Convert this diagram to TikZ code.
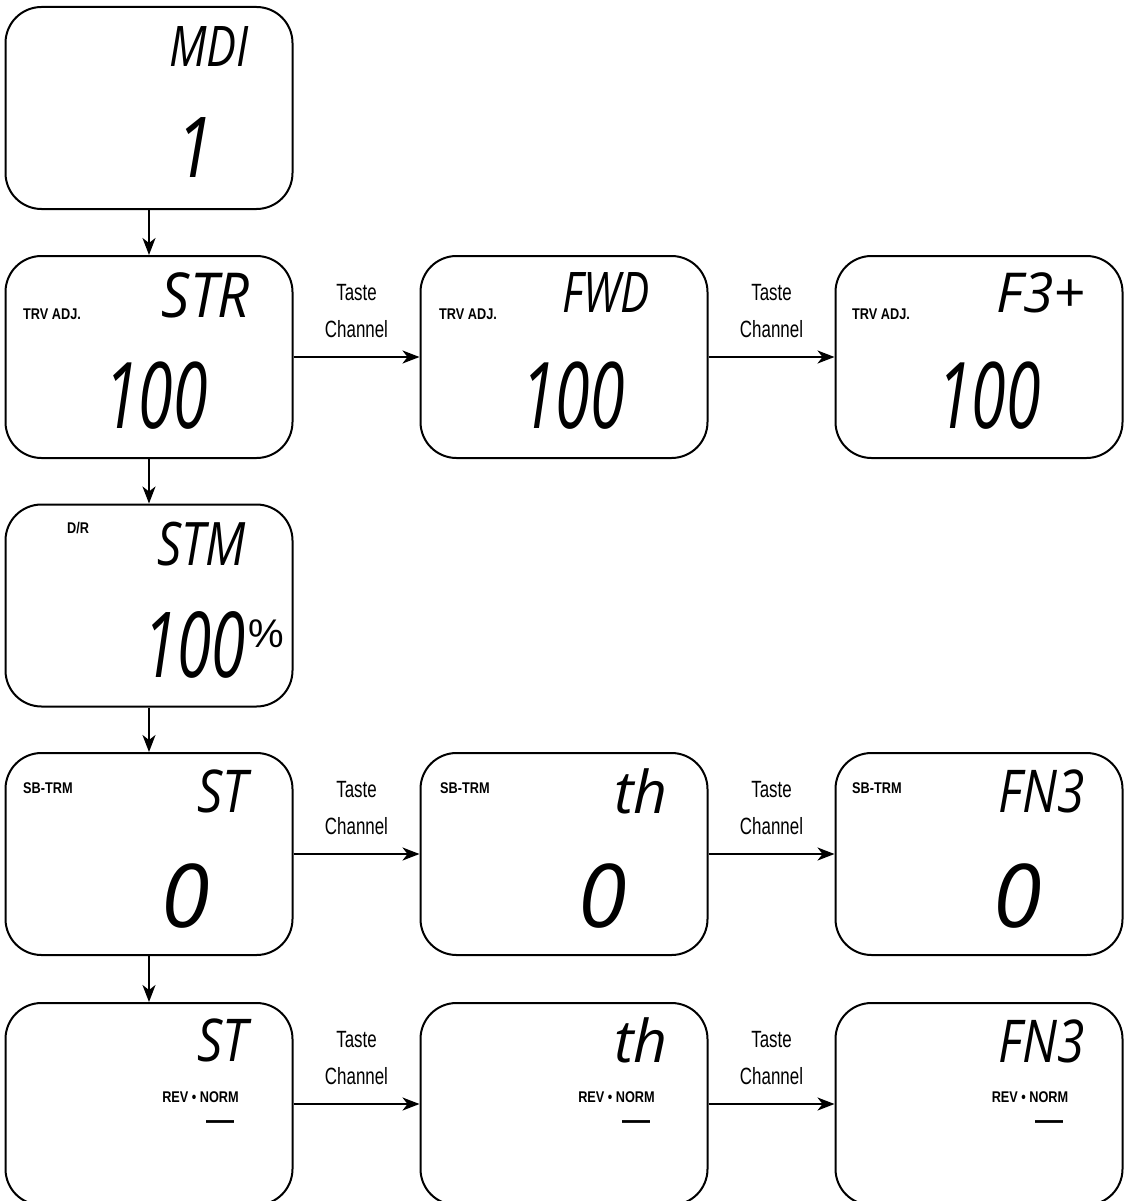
\documentclass[tikz,border=0pt]{standalone}
\usepackage{fontspec}
\usepackage{graphicx}
\setmainfont{Liberation Sans}
\newfontfamily\lcdfont{Open Sans}
\newfontfamily\condfont[FakeStretch=0.72]{Liberation Sans}
\newfontfamily\tagfont[FakeStretch=0.82]{Liberation Sans}
\usetikzlibrary{arrows.meta,calc}
\newcommand\lcd[3]{\scalebox{#1}[1]{\fontsize{#2}{#2}\selectfont\lcdfont\itshape #3}}
\tikzset{
  lcdbox/.style={draw=black, line width=2pt, rounded corners=36pt, minimum width=287pt, minimum height=202pt, inner sep=0pt},
  arr/.style={line width=2pt, -{Stealth[length=17pt,width=13pt,inset=5pt]}},
  tagtxt/.style={inner sep=0pt, font=\tagfont\fontsize{15.5}{16}\selectfont\bfseries, anchor=base west},
  revtxt/.style={inner sep=0pt, font=\tagfont\fontsize{15.5}{16}\selectfont\bfseries, anchor=base},
  seg/.style={inner sep=0pt, anchor=base east},
  lab/.style={inner sep=0pt, align=center, font=\condfont\fontsize{23.5}{37}\selectfont, anchor=south},
  barmark/.style={inner sep=0pt, font=\fontsize{28}{28}\selectfont\bfseries, anchor=center}
}
\begin{document}
\begin{tikzpicture}[x=1pt,y=-1pt]
\useasboundingbox (0,0) rectangle (1125,1201);
\fill[white] (0,0) rectangle (1125,1201);
\clip (0,0) rectangle (1125,1201);
% boxes
\node[lcdbox] (m1) at (149,108) {};
\node[lcdbox] (t1) at (149,357) {};
\node[lcdbox] (t2) at (564,357) {};
\node[lcdbox] (t3) at (979,357) {};
\node[lcdbox] (d1) at (149,605.5) {};
\node[lcdbox] (s1) at (149,854) {};
\node[lcdbox] (s2) at (564,854) {};
\node[lcdbox] (s3) at (979,854) {};
\node[lcdbox] (r1) at (149,1104) {};
\node[lcdbox] (r2) at (564,1104) {};
\node[lcdbox] (r3) at (979,1104) {};
% vertical arrows
\draw[arr] (m1.south) -- (t1.north);
\draw[arr] (t1.south) -- (d1.north);
\draw[arr] (d1.south) -- (s1.north);
\draw[arr] (s1.south) -- (r1.north);
% horizontal arrows
\draw[arr] (t1.east) -- (t2.west);
\draw[arr] (t2.east) -- (t3.west);
\draw[arr] (s1.east) -- (s2.west);
\draw[arr] (s2.east) -- (s3.west);
\draw[arr] (r1.east) -- (r2.west);
\draw[arr] (r2.east) -- (r3.west);
% arrow labels
\node[lab, yshift=19pt] (l1) at ($(t1.east)!0.5!(t2.west)$) {Taste\\Channel};
\node[lab, yshift=19pt] (l2) at ($(t2.east)!0.5!(t3.west)$) {Taste\\Channel};
\node[lab, yshift=19pt] (l3) at ($(s1.east)!0.5!(s2.west)$) {Taste\\Channel};
\node[lab, yshift=19pt] (l4) at ($(s2.east)!0.5!(s3.west)$) {Taste\\Channel};
\node[lab, yshift=19pt] (l5) at ($(r1.east)!0.5!(r2.west)$) {Taste\\Channel};
\node[lab, yshift=19pt] (l6) at ($(r2.east)!0.5!(r3.west)$) {Taste\\Channel};
% MDI box
\node[seg] (m1a) at (249,67) {\lcd{0.8}{56}{MDI}};
\node[seg] (m1b) at (214,178) {\lcd{0.8}{84}{1}};
% TRV ADJ row
\node[tagtxt] (t1t) at (23,319) {TRV ADJ.};
\node[seg] (t1a) at (250,317) {\lcd{0.9}{62}{STR}};
\node[seg] (t1b) at (208,428) {\lcd{0.68}{92}{100}};
\node[tagtxt] (t2t) at (439,319) {TRV ADJ.};
\node[seg] (t2a) at (650,312) {\lcd{0.78}{56}{FWD}};
\node[seg] (t2b) at (625,428) {\lcd{0.68}{92}{100}};
\node[tagtxt] (t3t) at (852,319) {TRV ADJ.};
\node[seg] (t3a) at (1085,312) {\lcd{1}{55}{F3+}};
\node[seg] (t3b) at (1041,428) {\lcd{0.68}{92}{100}};
% D/R box
\node[tagtxt] (d1t) at (67,533) {D/R};
\node[seg] (d1a) at (246,565) {\lcd{0.8}{60}{STM}};
\node[seg] (d1b) at (246,677) {\lcd{0.68}{91}{100}};
\node[inner sep=0pt, anchor=base west, font=\fontsize{40}{40}\selectfont] (d1p) at (248,647) {\%};
% SB-TRM row
\node[tagtxt] (s1t) at (23,793) {SB-TRM};
\node[seg] (s1a) at (248,812) {\lcd{0.85}{59}{ST}};
\node[seg] (s1b) at (210,927) {\lcd{1}{88}{0}};
\node[tagtxt] (s2t) at (440,793) {SB-TRM};
\node[seg] (s2a) at (668,813) {\lcd{1}{59}{th}};
\node[seg] (s2b) at (627,927) {\lcd{1}{88}{0}};
\node[tagtxt] (s3t) at (852,793) {SB-TRM};
\node[seg] (s3a) at (1085,812) {\lcd{0.84}{59}{FN3}};
\node[seg] (s3b) at (1042,927) {\lcd{1}{88}{0}};
% REV NORM row
\node[seg] (r1a) at (248,1061) {\lcd{0.85}{59}{ST}};
\node[revtxt] (r1t) at (200.5,1102) {REV • NORM};
\node[barmark] (r1d) at (220,1125) {—};
\node[seg] (r2a) at (668,1062) {\lcd{1}{59}{th}};
\node[revtxt] (r2t) at (616.5,1102) {REV • NORM};
\node[barmark] (r2d) at (636,1125) {—};
\node[seg] (r3a) at (1085,1062) {\lcd{0.84}{59}{FN3}};
\node[revtxt] (r3t) at (1030,1102) {REV • NORM};
\node[barmark] (r3d) at (1049,1125) {—};
\end{tikzpicture}
\end{document}
